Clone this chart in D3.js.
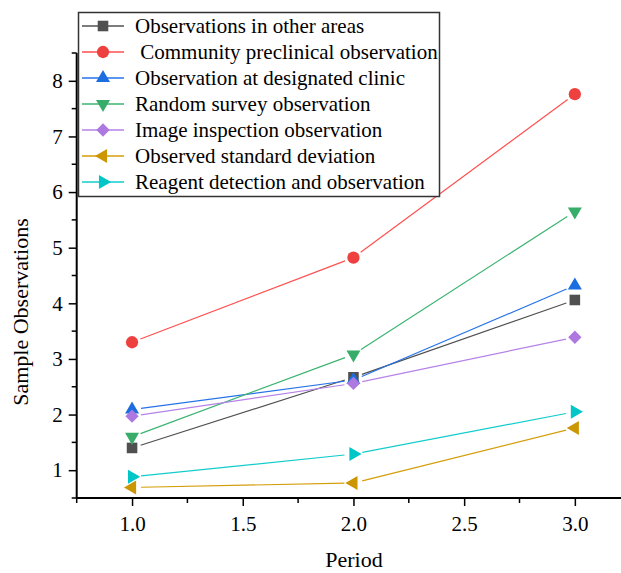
<!DOCTYPE html>
<html>
<head>
<meta charset="utf-8">
<script src="https://cdn.jsdelivr.net/npm/d3@7"></script>
<style>
  html, body { margin: 0; padding: 0; background: #fff; }
  svg { display: block; font-family: "Liberation Serif", "Times New Roman", serif; }
</style>
</head>
<body>
<svg id="chart" width="621" height="573"></svg>
<script>
// ---- data ----
const periods = [1.0, 2.0, 3.0];
const seriesNames = [
  "Observations in other areas",
  " Community preclinical observation",
  "Observation at designated clinic",
  "Random survey observation",
  "Image inspection observation",
  "Observed standard deviation",
  "Reagent detection and observation"
];
const otherAreas      = [1.40, 2.67, 4.06];
const communityPre    = [3.30, 4.82, 7.76];
const designatedClin  = [2.09, 2.62, 4.32];
const randomSurvey    = [1.60, 3.08, 5.65];
const imageInspection = [1.97, 2.56, 3.39];
const stdDeviation    = [0.69, 0.77, 1.76];
const reagentDetect   = [0.88, 1.29, 2.05];
const xTickValues = [1.0, 1.5, 2.0, 2.5, 3.0];
const xMinorTicks = [0.75, 1.25, 1.75, 2.25, 2.75, 3.25];
const yTickValues = [1, 2, 3, 4, 5, 6, 7, 8];
const yMinorTicks = [0.5, 1.5, 2.5, 3.5, 4.5, 5.5, 6.5, 7.5, 8.5];
const xTitle = "Period";
const yTitle = "Sample Observations";

const seriesValues = [otherAreas, communityPre, designatedClin, randomSurvey,
                      imageInspection, stdDeviation, reagentDetect];
const colors = ["#505050", "#ef4040", "#1c6ddf", "#38ad6a", "#ad78e0", "#cc9600", "#00c6c8"];
const lineColors = ["#505050", "#ff4f4f", "#2673e8", "#3cb371", "#b582e8", "#d49d0a", "#12cccc"];

// ---- layout ----
const svg = d3.select("#chart");
const x = d3.scaleLinear().domain([0.75, 3.25]).range([76.7, 630.2]);
const y = d3.scaleLinear().domain([0.5, 8.5]).range([498, 53]);

// symbol generators
function markerPath(i) {
  const tri = d3.symbol().type(d3.symbolTriangle).size(85)();
  switch (i) {
    case 0: return { d: d3.symbol().type(d3.symbolSquare).size(112)(), rot: 0 };
    case 1: return { d: d3.symbol().type(d3.symbolCircle).size(118)(), rot: 0 };
    case 2: return { d: tri, rot: 0 };
    case 3: return { d: tri, rot: 180 };
    case 4: return { d: d3.symbol().type(d3.symbolSquare).size(88)(), rot: 45 };
    case 5: return { d: tri, rot: -90 };
    case 6: return { d: tri, rot: 90 };
  }
}

// ---- axes ----
const axisG = svg.append("g");
// y axis
const yAxis = axisG.append("g").attr("transform", `translate(${x(0.75)},0)`)
  .call(d3.axisLeft(y).tickValues(yTickValues).tickFormat(d3.format("d")).tickSize(8).tickPadding(6));
yAxis.append("g").selectAll("line").data(yMinorTicks).join("line")
  .attr("x1", 0).attr("x2", -5).attr("y1", d => y(d)).attr("y2", d => y(d));
// x axis
const xAxis = axisG.append("g").attr("transform", `translate(0,${y(0.5)})`)
  .call(d3.axisBottom(x).tickValues(xTickValues).tickFormat(d3.format(".1f")).tickSize(8).tickPadding(10));
xAxis.append("g").selectAll("line").data(xMinorTicks).join("line")
  .attr("y1", 0).attr("y2", 5).attr("x1", d => x(d)).attr("x2", d => x(d));

[yAxis, xAxis].forEach(a => {
  a.select(".domain").attr("stroke", "#000").attr("stroke-width", 2);
  a.selectAll("line").attr("stroke", "#000").attr("stroke-width", 1.5);
  a.selectAll("text").attr("font-size", 21).attr("fill", "#000")
    .attr("font-family", "Liberation Serif, Times New Roman, serif");
});
yAxis.select(".domain").attr("d", `M0,${y(8.5)}V${y(0.5)}`);
xAxis.select(".domain").attr("d", `M${x(0.75)},0H${x(3.25)}`);

// titles
svg.append("text").attr("x", 354).attr("y", 567).attr("text-anchor", "middle")
  .attr("font-size", 22).text(xTitle);
svg.append("text").attr("transform", "translate(28,312) rotate(-90)")
  .attr("text-anchor", "middle").attr("font-size", 22).text(yTitle);

// ---- series ----
const gap = 9;
seriesValues.forEach((vals, i) => {
  const pts = vals.map((v, k) => [x(periods[k]), y(v)]);
  const g = svg.append("g");
  for (let k = 0; k < pts.length - 1; k++) {
    const [x1, y1] = pts[k], [x2, y2] = pts[k + 1];
    const len = Math.hypot(x2 - x1, y2 - y1);
    const ux = (x2 - x1) / len, uy = (y2 - y1) / len;
    g.append("line")
      .attr("x1", x1 + ux * gap).attr("y1", y1 + uy * gap)
      .attr("x2", x2 - ux * gap).attr("y2", y2 - uy * gap)
      .attr("stroke", lineColors[i]).attr("stroke-width", 1.2);
  }
  const m = markerPath(i);
  g.selectAll("path").data(pts).join("path")
    .attr("d", m.d)
    .attr("transform", d => `translate(${d[0]},${d[1]}) rotate(${m.rot})`)
    .attr("fill", colors[i]);
});

// ---- legend ----
const leg = svg.append("g");
leg.append("rect").attr("x", 78.5).attr("y", 12.5).attr("width", 361).attr("height", 184)
  .attr("fill", "#fff").attr("stroke", "#333").attr("stroke-width", 1.5);
seriesNames.forEach((name, i) => {
  const cy = 26 + i * 26;
  leg.append("line").attr("x1", 82).attr("x2", 124).attr("y1", cy).attr("y2", cy)
    .attr("stroke", lineColors[i]).attr("stroke-width", 1.5);
  const m = markerPath(i);
  leg.append("path").attr("d", m.d)
    .attr("transform", `translate(103,${cy}) rotate(${m.rot})`).attr("fill", colors[i]);
  leg.append("text").attr("x", 135).attr("y", cy + 7).attr("font-size", 21)
    .style("white-space", "pre").attr("xml:space", "preserve").text(name);
});
</script>
</body>
</html>
